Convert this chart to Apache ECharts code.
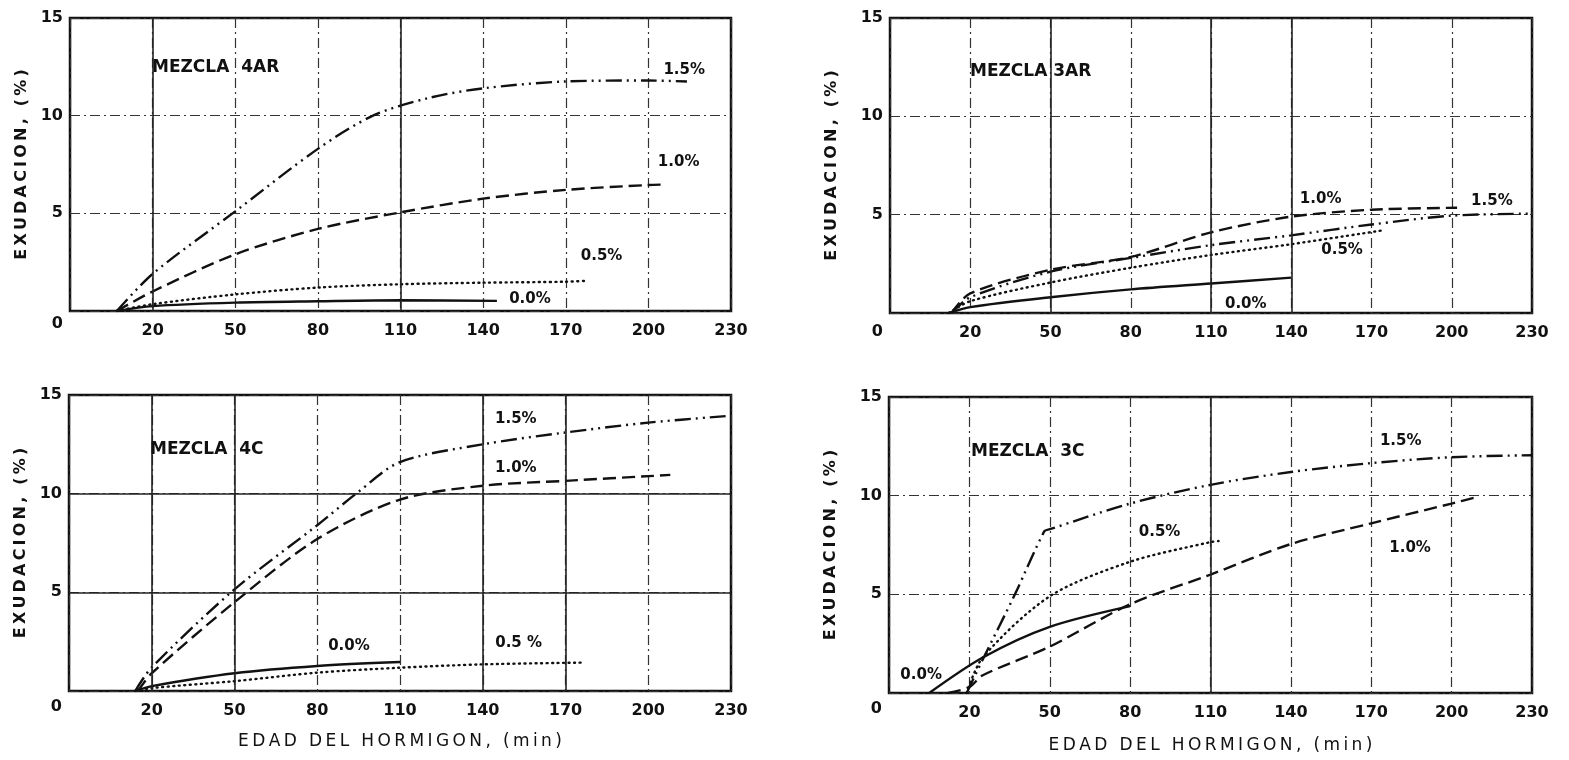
<!DOCTYPE html>
<html>
<head>
<meta charset="utf-8">
<title>Exudacion</title>
<script src="https://cdn.jsdelivr.net/npm/echarts@6/dist/echarts.min.js"></script>
<style>
  html, body { margin: 0; padding: 0; background: #fff; }
  #main { width: 1569px; height: 760px; }
</style>
</head>
<body>
<div id="main"></div>
<script>
// ejes: el borde izquierdo de cada cuadro esta en -10
var xTicks = [-10, 20, 50, 80, 110, 140, 170, 200, 230];
var xLabels = [20, 50, 80, 110, 140, 170, 200, 230];
var yTicks = [0, 5, 10, 15];

// MEZCLA 4AR  [min, %]
var m4AR_00 = [[7, 0], [20, 0.25], [50, 0.43], [80, 0.5], [110, 0.55], [145, 0.52]];
var m4AR_05 = [[7, 0], [20, 0.35], [50, 0.85], [80, 1.2], [110, 1.37], [140, 1.45], [170, 1.5], [178, 1.55]];
var m4AR_10 = [[7, 0], [20, 1.0], [50, 2.9], [80, 4.2], [110, 5.05], [140, 5.75], [170, 6.2], [200, 6.45], [205, 6.47]];
var m4AR_15 = [[7, 0], [20, 1.9], [50, 5.1], [80, 8.3], [100, 10.0], [120, 10.9], [140, 11.4], [170, 11.75], [200, 11.8], [214, 11.75]];

// MEZCLA 3AR
var m3AR_00 = [[12, 0], [20, 0.3], [50, 0.8], [80, 1.2], [110, 1.5], [140, 1.8]];
var m3AR_05 = [[12, 0], [20, 0.6], [50, 1.55], [80, 2.3], [110, 2.95], [140, 3.5], [174, 4.2]];
var m3AR_10 = [[13, 0], [20, 1.0], [50, 2.2], [80, 2.85], [110, 4.1], [140, 4.9], [170, 5.25], [202, 5.35]];
var m3AR_15 = [[13, 0], [20, 0.8], [50, 2.1], [80, 2.8], [110, 3.45], [140, 3.95], [170, 4.5], [200, 4.95], [230, 5.05]];

// MEZCLA 4C
var m4C_00 = [[14, 0], [20, 0.25], [50, 0.9], [80, 1.27], [110, 1.47]];
var m4C_05 = [[14, 0], [20, 0.15], [50, 0.5], [80, 0.93], [110, 1.18], [140, 1.35], [176, 1.44]];
var m4C_10 = [[15, 0], [20, 0.9], [50, 4.5], [80, 7.7], [110, 9.7], [140, 10.4], [170, 10.65], [208, 10.95]];
var m4C_15 = [[14, 0], [20, 1.2], [50, 5.15], [80, 8.4], [95, 10.1], [110, 11.6], [140, 12.5], [170, 13.1], [200, 13.6], [230, 13.95]];

// MEZCLA 3C
var m3C_00 = [[5, 0], [25, 1.8], [50, 3.35], [80, 4.4]];
var m3C_05 = [[19, 0], [25, 1.8], [50, 4.9], [80, 6.65], [110, 7.65], [113, 7.7]];
var m3C_10 = [[12, 0], [20, 0.3], [25, 0.9], [50, 2.35], [80, 4.5], [110, 6.0], [140, 7.55], [170, 8.6], [200, 9.6], [210, 9.95]];
var m3C_15 = [[19, 0], [25, 1.7], [37, 5.0], [48, 8.2], [50, 8.3], [80, 9.6], [110, 10.55], [140, 11.2], [170, 11.65], [200, 11.95], [230, 12.05]];

var FONT = 'DejaVu Sans';
var INK = '#111';
var TS = '\u2009'; // espacio fino para separar letras

function spaced(s) { return s.split('').join(TS); }

var styles = {
  solid: { type: 'solid', width: 2.4 },
  dotted: { type: [1, 4.5], width: 2.4, cap: 'round' },
  dashed: { type: [13, 6], width: 2.4 },
  dashdot: { type: [16, 5, 2, 5, 2, 5], width: 2.4 }
};

var panels = [
  {
    title: 'MEZCLA  4AR', titleAt: [152, 59],
    grid: { left: 70, top: 18, width: 661, height: 293 },
    zeroShift: 13, yNameGap: 40, xName: false, solidX: [20, 110], solidY: [],
    series: [
      { data: m4AR_15, style: 'dashdot', label: '1.5%', at: [213, 12.35] },
      { data: m4AR_10, style: 'dashed', label: '1.0%', at: [211, 7.6] },
      { data: m4AR_05, style: 'dotted', label: '0.5%', at: [183, 2.8] },
      { data: m4AR_00, style: 'solid', label: '0.0%', at: [157, 0.6] }
    ]
  },
  {
    title: 'MEZCLA 3AR', titleAt: [970, 63],
    grid: { left: 890, top: 18, width: 642, height: 295 },
    zeroShift: 19, yNameGap: 50, xName: false, solidX: [50, 110, 140], solidY: [],
    series: [
      { data: m3AR_15, style: 'dashdot', label: '1.5%', at: [215, 5.7] },
      { data: m3AR_10, style: 'dashed', label: '1.0%', at: [151, 5.8] },
      { data: m3AR_05, style: 'dotted', label: '0.5%', at: [159, 3.2] },
      { data: m3AR_00, style: 'solid', label: '0.0%', at: [123, 0.45] }
    ]
  },
  {
    title: 'MEZCLA  4C', titleAt: [150, 441],
    grid: { left: 69, top: 395, width: 662, height: 296 },
    zeroShift: 16, yNameGap: 40, xName: true, xNameGap: 42, solidX: [20, 50, 140, 170], solidY: [5, 10],
    series: [
      { data: m4C_15, style: 'dashdot', label: '1.5%', at: [152, 13.77] },
      { data: m4C_10, style: 'dashed', label: '1.0%', at: [152, 11.3] },
      { data: m4C_05, style: 'dotted', label: '0.5 %', at: [153, 2.45] },
      { data: m4C_00, style: 'solid', label: '0.0%', at: [91.5, 2.28] }
    ]
  },
  {
    title: 'MEZCLA  3C', titleAt: [971, 443],
    grid: { left: 889, top: 397, width: 643, height: 296 },
    zeroShift: 16, yNameGap: 50, xName: true, xNameGap: 44, solidX: [110], solidY: [],
    series: [
      { data: m3C_15, style: 'dashdot', label: '1.5%', at: [181, 12.74] },
      { data: m3C_10, style: 'dashed', label: '1.0%', at: [184.5, 7.33] },
      { data: m3C_05, style: 'dotted', label: '0.5%', at: [91, 8.17] },
      { data: m3C_00, style: 'solid', label: '0.0%', at: [2, 0.9] }
    ]
  }
];

var gridDash = { color: '#333', width: 1.2, type: [10, 4, 2, 4] };

var option = {
  backgroundColor: '#fff',
  animation: false,
  title: [],
  grid: [],
  xAxis: [],
  yAxis: [],
  series: []
};

panels.forEach(function (p, i) {
  option.title.push({
    text: p.title,
    left: p.titleAt[0], top: p.titleAt[1], padding: 0,
    textStyle: { fontFamily: FONT, fontSize: 17, fontWeight: 'bold', color: INK }
  });

  option.grid.push({
    left: p.grid.left, top: p.grid.top, width: p.grid.width, height: p.grid.height,
    show: true, borderColor: INK, borderWidth: 2.5, backgroundColor: 'transparent'
  });

  option.xAxis.push({
    type: 'value', gridIndex: i, min: -10, max: 230,
    name: p.xName ? spaced('EDAD DEL HORMIGON, (min)') : '',
    nameLocation: 'middle', nameGap: p.xNameGap || 40,
    nameTextStyle: { fontFamily: FONT, fontSize: 17, color: INK },
    axisLine: { show: false },
    axisTick: { show: false, customValues: xTicks },
    axisLabel: {
      customValues: xLabels, margin: 12,
      fontFamily: FONT, fontSize: 16, fontWeight: 'bold', color: INK
    },
    splitLine: { show: true, lineStyle: gridDash }
  });

  var shift = p.zeroShift;
  option.yAxis.push({
    type: 'value', gridIndex: i, min: 0, max: 15, interval: 5,
    name: spaced('EXUDACION, (%)'),
    nameLocation: 'middle', nameRotate: 90, nameGap: p.yNameGap,
    nameTextStyle: { fontFamily: FONT, fontSize: 16, fontWeight: 'bold', color: INK },
    axisLine: { show: false },
    axisTick: { show: false },
    axisLabel: {
      margin: 7, fontFamily: FONT, fontSize: 16, fontWeight: 'bold', color: INK,
      formatter: function (v) { return v === 0 ? '{z|0}' : String(v); },
      rich: {
        z: { padding: [shift * 2, 0, 0, 0], fontFamily: FONT, fontSize: 16, fontWeight: 'bold', color: INK }
      }
    },
    splitLine: { show: true, lineStyle: gridDash }
  });

  p.series.forEach(function (s, k) {
    var ls = Object.assign({ color: INK }, styles[s.style]);
    var ser = {
      type: 'line', xAxisIndex: i, yAxisIndex: i,
      data: s.data, showSymbol: false, smooth: 0.3,
      lineStyle: ls, itemStyle: { color: INK }, silent: true, z: 3,
      markPoint: {
        symbol: 'rect', symbolSize: 1, itemStyle: { color: 'rgba(0,0,0,0)' },
        label: {
          show: true, position: 'inside', formatter: '{b}',
          fontFamily: FONT, fontSize: 15, fontWeight: 'bold', color: INK
        },
        data: [{ name: s.label, coord: s.at }]
      }
    };
    if (k === 0) {
      var lines = [];
      p.solidX.forEach(function (x) { lines.push({ xAxis: x }); });
      p.solidY.forEach(function (y) { lines.push({ yAxis: y }); });
      ser.markLine = {
        symbol: 'none', silent: true, label: { show: false },
        lineStyle: { type: 'solid', color: '#222', width: 1.6 },
        data: lines
      };
    }
    option.series.push(ser);
  });
});

var myChart = echarts.init(document.getElementById('main'));
myChart.setOption(option);
</script>
</body>
</html>
